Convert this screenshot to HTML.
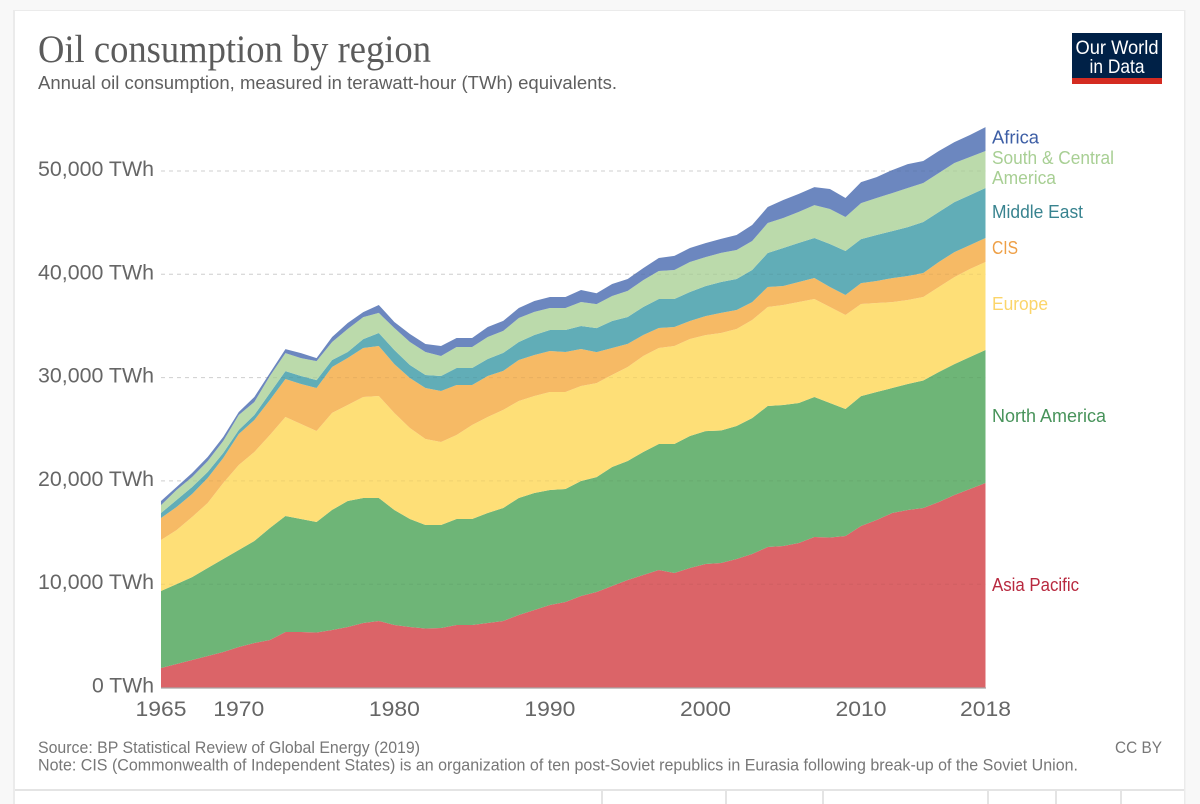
<!DOCTYPE html>
<html lang="en">
<head>
<meta charset="utf-8">
<title>Oil consumption by region</title>
<style>
html,body{margin:0;padding:0;background:#f8f8f8;width:1200px;height:804px;overflow:hidden}
svg{display:block;font-family:"Liberation Sans",sans-serif}
</style>
</head>
<body>
<svg id="chart" width="1200" height="804" viewBox="0 0 1200 804" xmlns="http://www.w3.org/2000/svg">
  <rect x="0" y="0" width="1200" height="804" fill="#f8f8f8"/>
  <rect x="13" y="10" width="1172.5" height="800" fill="#ebebeb"/>
  <rect x="15" y="11" width="1169" height="793" fill="#ffffff"/>
  <text x="38" y="62" font-family="'Liberation Serif',serif" font-size="39" fill="#5b5b5b" textLength="393" lengthAdjust="spacingAndGlyphs">Oil consumption by region</text>
  <text x="38" y="89" font-size="18.5" fill="#5f5f5f" textLength="579" lengthAdjust="spacingAndGlyphs">Annual oil consumption, measured in terawatt-hour (TWh) equivalents.</text>
  <g>
    <rect x="1072" y="33" width="90" height="46" fill="#002147"/>
    <rect x="1072" y="78" width="90" height="6" fill="#d42b21"/>
    <text x="1117" y="54" font-size="19.5" fill="#ffffff" text-anchor="middle" textLength="83" lengthAdjust="spacingAndGlyphs">Our World</text>
    <text x="1117" y="73" font-size="19.5" fill="#ffffff" text-anchor="middle" textLength="55" lengthAdjust="spacingAndGlyphs">in Data</text>
  </g>
  <g id="grid-under"></g>
  <g id="areas"></g>
  <g id="grid-over"></g>
  <line x1="161" y1="688" x2="986" y2="688" stroke="#a9a4a4" stroke-width="1.2"/>
  <g id="yticks"></g>
  <g id="xticks"></g>
  <g font-size="18">
    <text x="992" y="143.5" fill="#3d5ea5" textLength="47" lengthAdjust="spacingAndGlyphs">Africa</text>
    <text x="992" y="164" fill="#a8cf94" textLength="122" lengthAdjust="spacingAndGlyphs">South &amp; Central</text>
    <text x="992" y="184" fill="#a8cf94" textLength="64" lengthAdjust="spacingAndGlyphs">America</text>
    <text x="992" y="218" fill="#38838f" textLength="91" lengthAdjust="spacingAndGlyphs">Middle East</text>
    <text x="992" y="254" fill="#ee9f45" textLength="26" lengthAdjust="spacingAndGlyphs">CIS</text>
    <text x="992" y="310" fill="#fbd56a" textLength="56" lengthAdjust="spacingAndGlyphs">Europe</text>
    <text x="992" y="422" fill="#47935a" textLength="114" lengthAdjust="spacingAndGlyphs">North America</text>
    <text x="992" y="591" fill="#b8293f" textLength="87" lengthAdjust="spacingAndGlyphs">Asia Pacific</text>
  </g>
  <text x="38" y="753" font-size="16.5" fill="#777777" textLength="382" lengthAdjust="spacingAndGlyphs">Source: BP Statistical Review of Global Energy (2019)</text>
  <text x="38" y="770.5" font-size="16.5" fill="#777777" textLength="1040" lengthAdjust="spacingAndGlyphs">Note: CIS (Commonwealth of Independent States) is an organization of ten post-Soviet republics in Eurasia following break-up of the Soviet Union.</text>
  <text x="1162" y="753" font-size="16.5" fill="#777777" text-anchor="end" textLength="47" lengthAdjust="spacingAndGlyphs">CC BY</text>
  <rect x="15" y="789" width="1169" height="2" fill="#e4e4e4"/>
  <g fill="#e4e4e4">
    <rect x="601" y="790" width="2" height="14"/>
    <rect x="725" y="790" width="2" height="14"/>
    <rect x="822" y="790" width="2" height="14"/>
    <rect x="987" y="790" width="2" height="14"/>
    <rect x="1055" y="790" width="2" height="14"/>
    <rect x="1120" y="790" width="2" height="14"/>
  </g>
</svg>
<script>
const years = [1965,1966,1967,1968,1969,1970,1971,1972,1973,1974,1975,1976,1977,1978,1979,1980,1981,1982,1983,1984,1985,1986,1987,1988,1989,1990,1991,1992,1993,1994,1995,1996,1997,1998,1999,2000,2001,2002,2003,2004,2005,2006,2007,2008,2009,2010,2011,2012,2013,2014,2015,2016,2017,2018];
const asiaPacific = [1890,2270,2660,3050,3440,3920,4310,4600,5370,5370,5320,5570,5860,6240,6440,6050,5860,5710,5760,6050,6050,6240,6440,7020,7500,7990,8280,8860,9240,9830,10410,10890,11370,11080,11570,11950,12050,12440,12920,13600,13700,13990,14570,14520,14670,15630,16210,16890,17180,17380,17960,18630,19210,19800];
const northAmerica = [7450,7740,8030,8520,9000,9390,9870,10840,11230,10940,10700,11620,12200,12100,11910,11130,10450,10020,9970,10260,10260,10650,10940,11330,11330,11130,10940,11130,11130,11520,11520,11910,12200,12490,12780,12870,12830,12870,13160,13650,13650,13550,13550,13020,12290,12580,12390,12100,12200,12340,12580,12680,12780,12870];
const europe = [4940,5230,5810,6290,7360,8230,8620,9000,9580,9200,8810,9390,9290,9780,9870,9390,8810,8320,8030,8130,9100,9290,9490,9390,9390,9490,9390,9200,9100,8910,9100,9290,9290,9490,9390,9290,9440,9390,9490,9580,9680,9780,9490,9290,9100,8910,8620,8320,8130,8080,8230,8420,8520,8520];
const cis = [2130,2230,2230,2420,2420,3000,3100,3390,3680,3870,4160,4450,4550,4740,4840,4740,4840,4940,4940,4840,3870,3970,3780,3970,3970,3970,3870,3580,3000,2610,2230,2030,1940,1840,1740,1840,1940,1840,1740,1940,1840,1940,2030,1940,1940,2030,2130,2320,2320,2320,2420,2420,2320,2320];
const middleEast = [480,680,680,580,480,390,480,680,770,770,770,680,580,870,1260,1360,1260,1260,1450,1650,1650,1650,1740,1740,1940,2030,2130,2230,2320,2610,2610,2710,2810,2710,2810,2900,3000,3000,3100,3290,3680,3780,3870,4160,4260,4260,4450,4550,4740,4940,4840,4840,4840,4840];
const southCentralAmerica = [770,970,970,1060,1160,1450,1260,1650,1740,1740,1840,1740,2230,2130,1940,2130,2230,2230,1940,2030,2030,2130,2130,2320,2230,2130,2130,2320,2320,2420,2520,2610,2710,2810,2900,2810,2810,2810,2810,2900,2900,3000,3190,3390,3290,3480,3580,3680,3780,3780,3780,3780,3680,3580];
const africa = [390,290,390,390,390,290,480,290,390,480,290,480,580,480,770,580,770,770,970,870,870,970,970,970,1060,1060,1060,1160,1060,1160,1160,1160,1260,1360,1360,1360,1360,1450,1550,1550,1740,1740,1740,1940,1840,2030,2030,2230,2320,2130,2130,2030,2130,2320];
const seriesNames = ['asia-pacific','north-america','europe','cis','middle-east','south-central-america','africa'];
const seriesValues = [asiaPacific,northAmerica,europe,cis,middleEast,southCentralAmerica,africa];
const seriesColors = ['#db6468','#6eb577','#fedf77','#f6ba65','#61adb7','#bbdaab','#6c87bf'];
const yTickValues = [0,10000,20000,30000,40000,50000];
const yTickLabels = ['0 TWh','10,000 TWh','20,000 TWh','30,000 TWh','40,000 TWh','50,000 TWh'];
const xTickValues = [1965,1970,1980,1990,2000,2010,2018];

const NS = 'http://www.w3.org/2000/svg';
function xScale(year){ return 161 + (year - 1965) * (985.5 - 161) / (2018 - 1965); }
function yScale(value){ return 687.5 - value * (516.5 / 50000); }

const areasGroup = document.getElementById('areas');
const baseline = years.map(function(){ return 0; });
seriesValues.forEach(function(values, s){
  const lower = baseline.slice();
  const upper = values.map(function(v, i){ return lower[i] + v; });
  let d = '';
  upper.forEach(function(v, i){ d += (i ? 'L' : 'M') + xScale(years[i]).toFixed(2) + ' ' + yScale(v).toFixed(2); });
  for (let i = years.length - 1; i >= 0; i--) { d += 'L' + xScale(years[i]).toFixed(2) + ' ' + yScale(lower[i]).toFixed(2); }
  d += 'Z';
  const area = document.createElementNS(NS, 'path');
  area.setAttribute('d', d);
  area.setAttribute('fill', seriesColors[s]);
  
  
  areasGroup.appendChild(area);
  upper.forEach(function(v, i){ baseline[i] = v; });
});

const gridUnder = document.getElementById('grid-under');
const gridOver = document.getElementById('grid-over');
const yGroup = document.getElementById('yticks');
yTickValues.forEach(function(v, i){
  if (v > 0) {
    const line = document.createElementNS(NS, 'line');
    line.setAttribute('x1', 161);
    line.setAttribute('x2', 985.5);
    line.setAttribute('y1', yScale(v));
    line.setAttribute('y2', yScale(v));
    line.setAttribute('stroke', '#dcdcdc');
    line.setAttribute('stroke-dasharray', '4 4');
    
    
    gridUnder.appendChild(line);
    const overlay = document.createElementNS(NS, 'line');
    overlay.setAttribute('x1', 161);
    overlay.setAttribute('x2', 985.5);
    overlay.setAttribute('y1', yScale(v));
    overlay.setAttribute('y2', yScale(v));
    overlay.setAttribute('stroke', 'rgba(0,0,0,0.06)');
    overlay.setAttribute('stroke-dasharray', '4 4');
    
    
    gridOver.appendChild(overlay);
  }
  const label = document.createElementNS(NS, 'text');
  label.setAttribute('x', 154);
  label.setAttribute('y', yScale(v) + 5);
  label.setAttribute('font-size', '21.5');
  label.setAttribute('fill', '#666666');
  label.setAttribute('text-anchor', 'end');
  label.setAttribute('textLength', v > 0 ? '116' : '62');
  label.setAttribute('lengthAdjust', 'spacingAndGlyphs');
  label.textContent = yTickLabels[i];
  
  
  yGroup.appendChild(label);
});

const xGroup = document.getElementById('xticks');
xTickValues.forEach(function(year){
  const label = document.createElementNS(NS, 'text');
  label.setAttribute('x', xScale(year));
  label.setAttribute('y', 716);
  label.setAttribute('font-size', '21.5');
  label.setAttribute('fill', '#666666');
  label.setAttribute('text-anchor', 'middle');
  label.setAttribute('textLength', '51');
  label.setAttribute('lengthAdjust', 'spacingAndGlyphs');
  label.textContent = String(year);
  
  
  xGroup.appendChild(label);
});
</script>
</body>
</html>
